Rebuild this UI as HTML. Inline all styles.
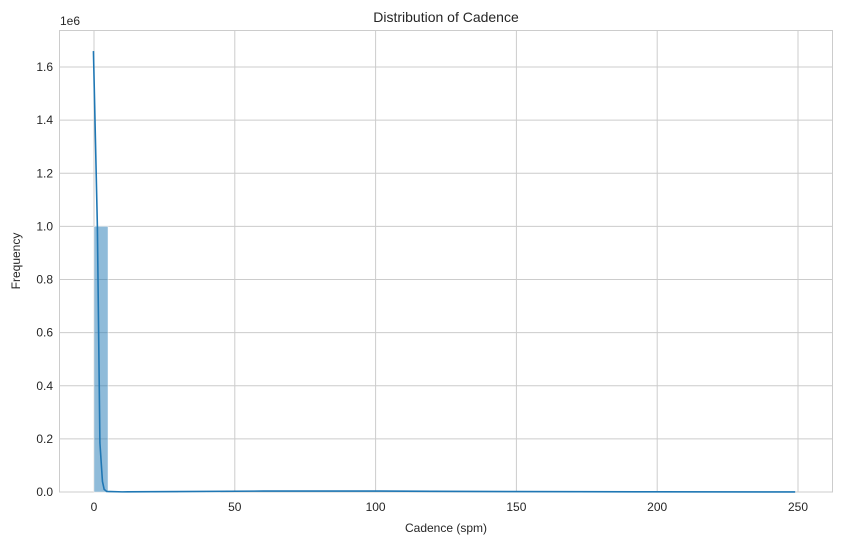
<!DOCTYPE html>
<html><head><meta charset="utf-8"><style>
body{margin:0;background:#fff;font-family:"Liberation Sans",sans-serif;}
text{font-family:"Liberation Sans",sans-serif;fill:#262626;}
</style></head><body>
<svg id="chart" width="843" height="545">
<rect x="59.5" y="30.5" width="773" height="461.5" fill="#fff" stroke="#cccccc"/>
<g id="grid"></g><g id="bars"></g><g id="kde"></g><g id="axes"></g>
<text x="446" y="22" text-anchor="middle" font-size="14">Distribution of Cadence</text>
<text x="446" y="532" text-anchor="middle" font-size="12">Cadence (spm)</text>
<text x="20" y="261" text-anchor="middle" font-size="12" transform="rotate(-90 20 261)">Frequency</text>
<text x="60" y="25" font-size="12">1e6</text>
</svg>
<script>
const binEdgesStart=[0,4.98,9.96,29.9,34.9,39.8];
const binCounts=[1000000,0,0,1200,2500,3000];
const kdeX=[-0.2,1.2,2.1,3.0,3.6,4.5,10,30,60,100,120,150,200,249];
const kdeY=[1660000,1000000,185000,40000,10000,2000,500,1500,3500,3500,2500,1500,600,300];
const xTicks=[0,50,100,150,200,250];
const yTicks=[0,0.2,0.4,0.6,0.8,1.0,1.2,1.4,1.6];
const binWidth=4.98;
const ns="http://www.w3.org/2000/svg";
const X=v=>94+v*(798-94)/250;
const Y=v=>492-v/1e6*(492-67)/1.6;
function mk(t,a,p){const e=document.createElementNS(ns,t);for(const k in a)e.setAttribute(k,a[k]);p.appendChild(e);return e;}
const grid=document.getElementById('grid'),axes=document.getElementById('axes');
xTicks.forEach(t=>{
 const l=mk('line',{x1:X(t),x2:X(t),y1:30.5,y2:492,stroke:'#cccccc'},grid);
 
 
 const tx=mk('text',{x:X(t),y:511,'text-anchor':'middle','font-size':12},axes);tx.textContent=t;
 
 
});
yTicks.forEach(t=>{
 const l=mk('line',{x1:59.5,x2:832.5,y1:Y(t*1e6),y2:Y(t*1e6),stroke:'#cccccc'},grid);
 
 
 const tx=mk('text',{x:53,y:Y(t*1e6)+4,'text-anchor':'end','font-size':12},axes);tx.textContent=t.toFixed(1);
 
 
});
const bars=document.getElementById('bars');
binEdgesStart.forEach((s,i)=>{
 const r=mk('rect',{x:X(s),y:Y(binCounts[i]),width:X(s+binWidth)-X(s),height:Y(0)-Y(binCounts[i]),fill:'rgba(31,119,180,0.5)',stroke:'#fff','stroke-width':0.5},bars);
 
 
});
const p=mk('polyline',{points:kdeX.map((x,i)=>X(x)+','+Y(kdeY[i])).join(' '),fill:'none',stroke:'#1f77b4','stroke-width':1.6},document.getElementById('kde'));


</script>
</body></html>
